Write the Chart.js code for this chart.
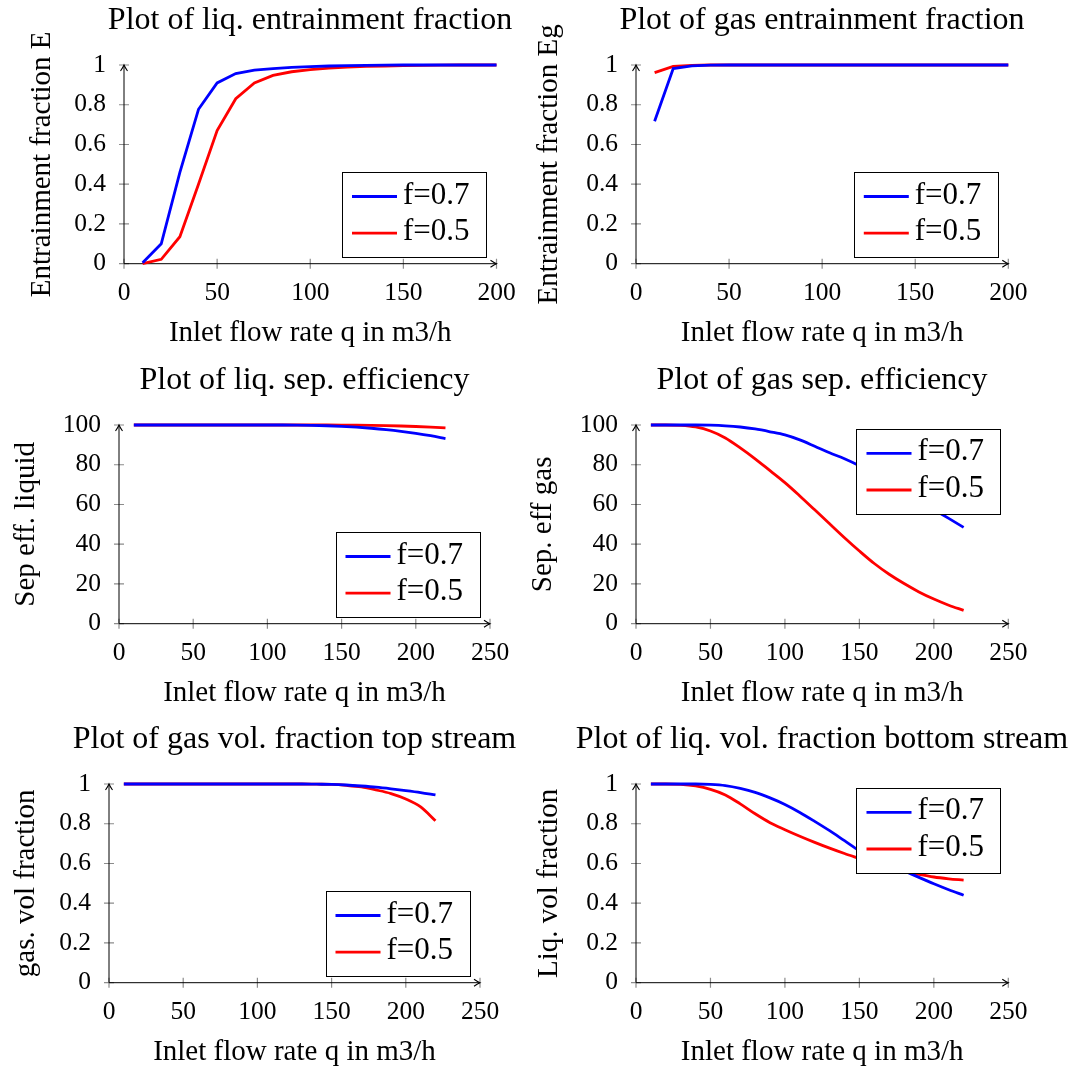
<!DOCTYPE html>
<html><head><meta charset="utf-8">
<script src="https://cdn.jsdelivr.net/npm/chart.js@4.4.1/dist/chart.umd.min.js"></script>
<style>
html,body{margin:0;padding:0;background:#fff;}
body{width:1075px;height:1067px;position:relative;overflow:hidden;}
.p{position:absolute;}
</style></head><body>
<div class="p" style="left:0px;top:0px"><canvas id="c1" width="620" height="360"></canvas></div>
<div class="p" style="left:515px;top:0px"><canvas id="c2" width="614" height="360"></canvas></div>
<div class="p" style="left:0px;top:360px"><canvas id="c3" width="609" height="360"></canvas></div>
<div class="p" style="left:515px;top:360px"><canvas id="c4" width="614" height="360"></canvas></div>
<div class="p" style="left:0px;top:719px"><canvas id="c5" width="589" height="360"></canvas></div>
<div class="p" style="left:515px;top:719px"><canvas id="c6" width="614" height="360"></canvas></div>
<script>
// ---------- data ----------
const q200 = [10,20,30,40,50,60,70,80,90,100,110,120,130,140,150,160,170,180,190,200];
const q220 = [10,20,30,40,50,60,70,80,90,100,110,120,130,140,150,160,170,180,190,200,210,220];

const liqEntr_f07 = [0.005,0.10,0.46,0.777,0.91,0.957,0.974,0.982,0.988,0.992,0.995,0.997,0.998,0.999,1,1,1,1,1,1];
const liqEntr_f05 = [0.0,0.022,0.136,0.40,0.67,0.83,0.91,0.948,0.966,0.977,0.984,0.989,0.993,0.995,0.997,0.998,0.999,1,1,1];

const gasEntr_f07 = [0.717,0.982,0.996,0.999,1,1,1,1,1,1,1,1,1,1,1,1,1,1,1,1];
const gasEntr_f05 = [0.962,0.993,0.998,1,1,1,1,1,1,1,1,1,1,1,1,1,1,1,1,1];

const liqEff_f07 = [100,100,100,100,100,100,100,100,100,100,99.99,99.94,99.83,99.63,99.33,98.91,98.36,97.67,96.82,95.8,94.6,93.2];
const liqEff_f05 = [100,100,100,100,100,100,100,100,100,100,100,100,100,100,99.98,99.93,99.85,99.7,99.5,99.25,98.95,98.6];

const gasEff_f07 = [100,100,100,100,99.9,99.6,99,98,96.6,95,92.5,89.3,86,83,79.5,75.5,71,66.5,62,57.5,53,48.5];
const gasEff_f05 = [100,100,99.8,99,97,93.5,88.5,83,77,71,64.3,57.3,50.3,43.3,36.6,30.3,24.9,20.2,16.0,12.4,9.3,6.7];

const gasVol_f07 = [1,1,1,1,1,1,1,1,1,1,1,1,1,0.999,0.998,0.995,0.99,0.984,0.976,0.967,0.957,0.945];
const gasVol_f05 = [1,1,1,1,1,1,1,1,1,1,1,1,1,0.999,0.998,0.993,0.985,0.970,0.952,0.925,0.885,0.815];

const liqVol_f07 = [1,1,1,1,0.998,0.992,0.978,0.958,0.93,0.897,0.857,0.812,0.765,0.715,0.665,0.628,0.595,0.563,0.53,0.498,0.468,0.44];
const liqVol_f05 = [1,1,0.998,0.99,0.973,0.945,0.9,0.85,0.805,0.77,0.737,0.706,0.677,0.65,0.625,0.6,0.578,0.56,0.545,0.532,0.523,0.516];

const xTicks200 = [0,50,100,150,200];
const xTicks250 = [0,50,100,150,200,250];
const yTicksFrac = [0,0.2,0.4,0.6,0.8,1];
const yTicksPct = [0,20,40,60,80,100];

const seriesLabels = ['f=0.7','f=0.5'];
const seriesColors = ['#0000ff','#ff0000'];

const titles = ['Plot of liq. entrainment fraction','Plot of gas entrainment fraction',
  'Plot of liq. sep. efficiency','Plot of gas sep. efficiency',
  'Plot of gas vol. fraction top stream','Plot of liq. vol. fraction bottom stream'];
const yLabels = ['Entrainment fraction E','Entrainment fraction Eg','Sep eff. liquid','Sep. eff gas','gas. vol fraction','Liq. vol fraction'];
const xLabel = 'Inlet flow rate q in m3/h';

// ---------- layout (positions only) ----------
const FAM = "'Liberation Serif','Times New Roman',serif";
const panels = [
  {id:'c1', cl:0,   w:620, plotL:124, plotR:496.5, ylab:24.5, leg:'br', q:q200, s:[liqEntr_f07,liqEntr_f05], xt:xTicks200, yt:yTicksFrac, smooth:false},
  {id:'c2', cl:515, w:614, plotL:636, plotR:1008.3, ylab:16.5, leg:'br', q:q200, s:[gasEntr_f07,gasEntr_f05], xt:xTicks200, yt:yTicksFrac, smooth:false},
  {id:'c3', cl:0,   w:609, plotL:119, plotR:490, ylab:8.8, leg:'br', q:q220, s:[liqEff_f07,liqEff_f05], xt:xTicks250, yt:yTicksPct, smooth:true},
  {id:'c4', cl:515, w:614, plotL:636, plotR:1008.3, ylab:10.5, leg:'tr', q:q220, s:[gasEff_f07,gasEff_f05], xt:xTicks250, yt:yTicksPct, smooth:true},
  {id:'c5', cl:0,   w:589, plotL:109, plotR:480, ylab:8.8, leg:'br', q:q220, s:[gasVol_f07,gasVol_f05], xt:xTicks250, yt:yTicksFrac, smooth:true},
  {id:'c6', cl:515, w:614, plotL:636, plotR:1008.3, ylab:16.5, leg:'tr', q:q220, s:[liqVol_f07,liqVol_f05], xt:xTicks250, yt:yTicksFrac, smooth:true}
];

const axesPlugin = {
  id:'pgfAxes',
  beforeDatasetsDraw(chart){
    const ctx = chart.ctx, xs = chart.scales.x, ys = chart.scales.y;
    const x0 = xs.getPixelForValue(xs.min), y0 = ys.getPixelForValue(ys.min);
    const x1 = xs.getPixelForValue(xs.max), y1 = ys.getPixelForValue(ys.max);
    ctx.save();
    ctx.strokeStyle = '#8c8c8c'; ctx.lineWidth = 1.2;
    ctx.beginPath();
    xs.ticks.forEach(t => { const p = xs.getPixelForValue(t.value); ctx.moveTo(p, y0-5); ctx.lineTo(p, y0+5); });
    ys.ticks.forEach(t => { const p = ys.getPixelForValue(t.value); ctx.moveTo(x0-5, p); ctx.lineTo(x0+5, p); });
    ctx.stroke();
    ctx.strokeStyle = '#000'; ctx.lineWidth = 1;
    ctx.beginPath();
    ctx.moveTo(x0, y0); ctx.lineTo(x1, y0);
    ctx.moveTo(x0, y0); ctx.lineTo(x0, y1);
    ctx.stroke();
    ctx.lineWidth = 1.1;
    ctx.beginPath();
    ctx.moveTo(x1-6, y0-3.5); ctx.quadraticCurveTo(x1-2, y0-0.8, x1, y0); ctx.quadraticCurveTo(x1-2, y0+0.8, x1-6, y0+3.5);
    ctx.moveTo(x0-3.5, y1+6); ctx.quadraticCurveTo(x0-0.8, y1+2, x0, y1); ctx.quadraticCurveTo(x0+0.8, y1+2, x0+3.5, y1+6);
    ctx.stroke();
    ctx.restore();
  },
  afterDatasetsDraw(chart, args, opts){
    const ctx = chart.ctx, a = chart.chartArea;
    const bw = 143.5, bh = 85;
    let bx, by;
    if (opts.pos === 'tr') { bx = a.right - 8.3 - bw; by = a.top + 4; }
    else { bx = a.right - 11 - bw; by = a.bottom - 6.5 - bh; }
    ctx.save();
    ctx.fillStyle = '#fff'; ctx.fillRect(bx, by, bw, bh);
    ctx.strokeStyle = '#000'; ctx.lineWidth = 1;
    ctx.strokeRect(Math.round(bx)+0.5, Math.round(by)+0.5, Math.round(bw), Math.round(bh));
    const rows = [24.3, 61];
    chart.data.datasets.forEach((ds, i) => {
      const yy = by + rows[i];
      ctx.strokeStyle = ds.borderColor; ctx.lineWidth = 2.8;
      ctx.beginPath(); ctx.moveTo(bx+10, yy); ctx.lineTo(bx+55, yy); ctx.stroke();
      ctx.fillStyle = '#000'; ctx.font = '31px ' + FAM; ctx.textBaseline = 'middle'; ctx.textAlign = 'left';
      ctx.fillText(ds.label, bx+61, yy-1);
    });
    ctx.restore();
  }
};

panels.forEach((p, i) => {
  const datasets = p.s.map((vals, k) => ({
    label: seriesLabels[k],
    data: p.q.map((x, j) => ({x: x, y: vals[j]})),
    borderColor: seriesColors[k],
    backgroundColor: seriesColors[k],
    borderWidth: 2.8,
    pointRadius: 0,
    fill: false,
    clip: false,
    tension: 0,
    cubicInterpolationMode: p.smooth ? 'monotone' : 'default'
  }));
  const yWidth = p.plotL - p.cl;
  const rightWidth = p.cl + p.w - p.plotR;
  new Chart(document.getElementById(p.id), {
    type: 'line',
    data: { datasets: datasets },
    options: {
      responsive: false,
      animation: false,
      events: [],
      layout: { padding: 0 },
      plugins: {
        legend: { display: false },
        tooltip: { enabled: false },
        title: {
          display: true, text: titles[i], color: '#000',
          font: { family: FAM, size: 32, weight: 'normal', lineHeight: 1.2 },
          padding: { top: 1.7, bottom: 24.9 }
        },
        pgfAxes: { pos: p.leg }
      },
      scales: {
        x: {
          type: 'linear', min: p.xt[0], max: p.xt[p.xt.length-1],
          afterBuildTicks: s => { s.ticks = p.xt.map(v => ({value: v})); },
          afterFit: s => { s.height = 96.3; },
          grid: { display: false, drawTicks: false },
          border: { display: false },
          ticks: { color: '#000', font: { family: FAM, size: 25.5 }, padding: 14, maxRotation: 0, autoSkip: false,
                   callback: v => String(v) },
          title: { display: true, text: xLabel, color: '#000', font: { family: FAM, size: 29, lineHeight: 1.2 }, padding: { top: 0, bottom: 9.3 } }
        },
        y: {
          type: 'linear', position: 'left', min: p.yt[0], max: p.yt[p.yt.length-1],
          afterBuildTicks: s => { s.ticks = p.yt.map(v => ({value: v})); },
          afterFit: s => { s.width = yWidth; },
          grid: { display: false, drawTicks: false },
          border: { display: false },
          ticks: { color: '#000', font: { family: FAM, size: 25.5 }, padding: 18, autoSkip: false,
                   callback: v => String(v) },
          title: { display: true, text: yLabels[i], color: '#000', font: { family: FAM, size: 29, lineHeight: 1.2 }, padding: { top: p.ylab, bottom: 0 } }
        },
        yR: {
          type: 'linear', position: 'right', min: 0, max: 1,
          afterFit: s => { s.width = rightWidth; },
          grid: { display: false, drawTicks: false },
          border: { display: false },
          ticks: { display: false },
          title: { display: false }
        }
      }
    },
    plugins: [axesPlugin]
  });
});
</script>
</body></html>
